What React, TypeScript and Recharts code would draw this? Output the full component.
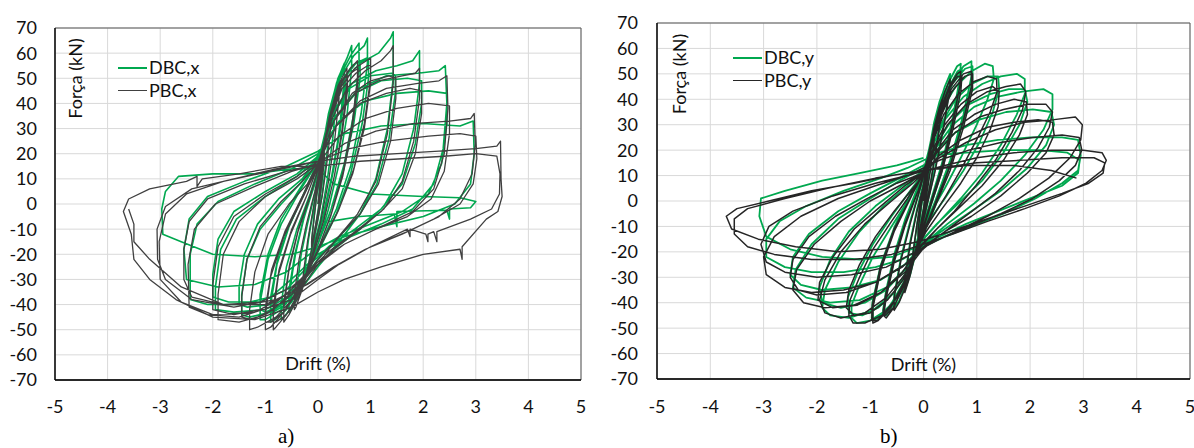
import { LineChart, Line, XAxis, YAxis, CartesianGrid, ReferenceArea, Legend } from 'recharts'

type Pt = [number, number]

const xTicks = [-5, -4, -3, -2, -1, 0, 1, 2, 3, 4, 5]
const yTicks = [-70, -60, -50, -40, -30, -20, -10, 0, 10, 20, 30, 40, 50, 60, 70]

const GREEN = '#00a84f'
const FONT = 'Lato, "Noto Sans", sans-serif'
const SERIF = '"Liberation Serif", "Times New Roman", serif'

// a) drift in x — DBC (green), read cycle by cycle off the picture
const dbcX: Pt[] = [
  [0, 0], [0.06, 12], [0.12, 22], [0.12, 19], [0.08, 10], [0.02, 0], [-0.04, -8], [-0.1, -16], [-0.12, -18], [-0.12, -15], [-0.08, -6], [-0.03, 3],
  [0.05, 12], [0.13, 24], [0.22, 35], [0.22, 31], [0.16, 18], [0.08, 4], [0, -6], [-0.12, -18], [-0.22, -28], [-0.25, -30], [-0.25, -26], [-0.18, -14], [-0.1, -4], [-0.02, 6],
  [0.08, 18], [0.2, 32], [0.3, 42], [0.35, 47], [0.35, 42], [0.28, 26], [0.18, 10], [0.05, -6], [-0.1, -18], [-0.25, -30], [-0.38, -37], [-0.4, -38], [-0.4, -33], [-0.32, -20], [-0.2, -8], [-0.05, 5],
  [0.08, 20], [0.2, 35], [0.35, 48], [0.46, 54], [0.5, 56], [0.5, 50], [0.42, 32], [0.3, 14], [0.12, -4], [-0.1, -20], [-0.3, -33], [-0.48, -41], [-0.55, -43], [-0.55, -37], [-0.45, -22], [-0.3, -8], [-0.1, 6],
  [0.08, 19], [0.22, 34], [0.38, 45], [0.5, 50], [0.5, 45], [0.4, 28], [0.26, 11], [0.08, -6], [-0.12, -20], [-0.32, -32], [-0.5, -39], [-0.55, -40], [-0.55, -34], [-0.44, -20], [-0.28, -6], [-0.08, 7],
  [0.1, 21], [0.25, 36], [0.4, 46], [0.52, 51], [0.52, 46], [0.42, 29], [0.27, 11], [0.1, -5], [-0.1, -19], [-0.3, -31], [-0.48, -38], [-0.53, -39], [-0.53, -33], [-0.42, -19], [-0.26, -5], [-0.06, 8],
  [0.05, 18], [0.2, 36], [0.38, 50], [0.55, 58], [0.64, 63], [0.64, 54], [0.55, 35], [0.4, 16], [0.2, -2], [0, -16], [-0.25, -30], [-0.5, -41], [-0.65, -45], [-0.7, -46], [-0.7, -40], [-0.6, -25], [-0.4, -10], [-0.15, 4],
  [0.05, 17], [0.22, 36], [0.42, 51], [0.62, 59], [0.78, 64], [0.78, 55], [0.68, 36], [0.5, 16], [0.25, -2], [0, -16], [-0.3, -31], [-0.6, -42], [-0.82, -46], [-0.9, -47], [-0.9, -40], [-0.78, -24], [-0.55, -9], [-0.25, 5],
  [0.02, 18], [0.22, 36], [0.45, 49], [0.65, 55], [0.8, 57], [0.8, 50], [0.68, 32], [0.48, 13], [0.22, -4], [-0.02, -17], [-0.32, -31], [-0.62, -40], [-0.85, -43], [-0.9, -43], [-0.9, -37], [-0.76, -21], [-0.52, -7], [-0.22, 6],
  [0, 16], [0.2, 34], [0.42, 50], [0.68, 59], [0.88, 63], [0.94, 66], [0.94, 56], [0.82, 36], [0.62, 15], [0.35, -2], [0.05, -16], [-0.3, -31], [-0.7, -42], [-1.0, -46], [-1.1, -46], [-1.1, -39], [-0.95, -22], [-0.7, -8], [-0.35, 5],
  [0, 17], [0.22, 35], [0.46, 49], [0.72, 56], [0.92, 58], [0.96, 57], [0.96, 50], [0.84, 32], [0.62, 12], [0.35, -4], [0.05, -17], [-0.3, -31], [-0.7, -40], [-1.0, -43], [-1.1, -42], [-1.1, -36], [-0.95, -20], [-0.7, -6], [-0.35, 6],
  [0, 17], [0.2, 33], [0.45, 48], [0.8, 56], [1.15, 60], [1.38, 66], [1.43, 68.5], [1.43, 50], [1.32, 30], [1.1, 10], [0.8, -4], [0.4, -15], [0, -25], [-0.4, -36], [-0.9, -43], [-1.3, -45], [-1.45, -44], [-1.45, -36], [-1.35, -22], [-1.1, -10], [-0.7, 0], [-0.3, 9],
  [0.05, 20], [0.3, 36], [0.6, 46], [1.0, 51], [1.4, 52], [1.47, 51], [1.47, 44], [1.35, 26], [1.12, 8], [0.8, -4], [0.4, -13], [0, -22], [-0.4, -33], [-0.9, -40], [-1.35, -41], [-1.5, -40], [-1.5, -33], [-1.4, -20], [-1.15, -8], [-0.75, 2], [-0.3, 10],
  [0.05, 21], [0.3, 37], [0.65, 48], [1.1, 53], [1.5, 55], [1.8, 57], [1.93, 61], [1.93, 48], [1.82, 30], [1.6, 12], [1.25, -1], [0.8, -10], [0.3, -18], [-0.1, -26], [-0.5, -36], [-1.0, -42], [-1.6, -43], [-1.95, -42], [-1.95, -33], [-1.85, -18], [-1.55, -6], [-1.0, 3], [-0.4, 11],
  [0, 18], [0.3, 34], [0.7, 44], [1.2, 49], [1.7, 50], [1.97, 49], [1.97, 40], [1.85, 24], [1.6, 8], [1.2, -2], [0.7, -10], [0.2, -17], [-0.2, -25], [-0.6, -34], [-1.1, -39], [-1.7, -39], [-2.0, -37], [-2.0, -28], [-1.9, -14], [-1.6, -3], [-1.0, 5], [-0.4, 12],
  [0, 19], [0.35, 35], [0.8, 46], [1.3, 51], [1.9, 52], [2.3, 53], [2.42, 55], [2.45, 40], [2.38, 22], [2.2, 8], [1.8, -2], [1.2, -8], [0.5, -14], [0, -20], [-0.4, -28], [-0.9, -37], [-1.5, -40], [-2.1, -40], [-2.43, -38], [-2.43, -20], [-2.3, -8], [-1.9, 1], [-1.2, 8], [-0.5, 14],
  [0, 20], [0.4, 33], [0.9, 41], [1.5, 44], [2.1, 45], [2.45, 44], [2.45, 32], [2.35, 16], [2.1, 4], [1.6, -3], [1.0, -8], [0.4, -13], [-0.1, -19], [-0.6, -27], [-1.2, -32], [-1.9, -33], [-2.5, -30], [-2.55, -18], [-2.45, -6], [-2.1, 3], [-1.4, 9], [-0.6, 15],
  [0, 21], [0.5, 28], [1.2, 31], [2.0, 32], [2.7, 31], [2.95, 33], [2.97, 20], [2.9, 8], [2.6, 0], [2.0, -5], [1.2, -9], [0.5, -13], [0, -17], [-0.5, -20], [-1.2, -21], [-2.0, -20], [-2.6, -15], [-2.95, -12], [-2.97, -2], [-2.9, 5], [-2.65, 11], [-2.0, 12], [-1.2, 12], [-0.5, 14],
  [0, 14], [0.3, 8], [1.0, 4], [2.0, 3], [2.7, 2.5], [3.0, 1], [2.9, -1.5], [2.5, -2], [2.5, -6], [2.45, -2.5], [1.5, -3], [1.5, -9], [1.45, -4], [0.8, -5], [0.2, -7],
]

// a) drift in x — PBC (dark grey)
const pbcX: Pt[] = [
  [0, 0], [0.06, 11], [0.12, 20], [0.12, 17], [0.07, 8], [0.01, -2], [-0.06, -10], [-0.12, -17], [-0.12, -14], [-0.07, -5], [-0.02, 4],
  [0.06, 14], [0.16, 27], [0.25, 36], [0.25, 32], [0.18, 18], [0.08, 3], [-0.04, -10], [-0.16, -22], [-0.26, -31], [-0.28, -32], [-0.28, -28], [-0.2, -15], [-0.1, -3], [-0.02, 7],
  [0.08, 19], [0.22, 34], [0.34, 43], [0.4, 47], [0.4, 42], [0.32, 26], [0.2, 9], [0.05, -7], [-0.12, -21], [-0.3, -34], [-0.42, -41], [-0.45, -42], [-0.45, -36], [-0.36, -22], [-0.22, -8], [-0.06, 5],
  [0.08, 19], [0.22, 35], [0.38, 47], [0.5, 52], [0.55, 54], [0.55, 48], [0.46, 30], [0.32, 12], [0.12, -6], [-0.1, -21], [-0.32, -35], [-0.55, -44], [-0.65, -47], [-0.65, -41], [-0.55, -26], [-0.38, -11], [-0.15, 3],
  [0.06, 18], [0.2, 32], [0.36, 44], [0.5, 50], [0.56, 51], [0.56, 45], [0.46, 28], [0.3, 10], [0.1, -7], [-0.12, -22], [-0.35, -35], [-0.56, -43], [-0.65, -45], [-0.65, -39], [-0.54, -24], [-0.36, -9], [-0.14, 4],
  [0.05, 17], [0.22, 35], [0.42, 48], [0.62, 54], [0.75, 57], [0.75, 50], [0.65, 32], [0.48, 13], [0.25, -4], [0, -18], [-0.3, -33], [-0.6, -44], [-0.8, -49], [-0.85, -50], [-0.85, -44], [-0.75, -28], [-0.52, -12], [-0.22, 3],
  [0.04, 17], [0.22, 34], [0.42, 46], [0.62, 52], [0.76, 54], [0.76, 48], [0.65, 30], [0.47, 11], [0.24, -5], [-0.02, -19], [-0.32, -34], [-0.6, -44], [-0.8, -47], [-0.85, -47], [-0.85, -41], [-0.74, -26], [-0.5, -10], [-0.2, 4],
  [0.02, 16], [0.22, 34], [0.45, 47], [0.7, 54], [0.92, 57], [1.0, 58], [1.0, 50], [0.88, 32], [0.68, 14], [0.4, -2], [0.05, -16], [-0.3, -31], [-0.65, -43], [-0.9, -49], [-1.0, -50], [-1.0, -44], [-0.9, -29], [-0.65, -13], [-0.3, 2],
  [0.02, 16], [0.22, 33], [0.46, 46], [0.72, 52], [0.94, 55], [1.0, 55], [1.0, 48], [0.88, 30], [0.66, 12], [0.38, -3], [0.04, -17], [-0.3, -32], [-0.65, -43], [-0.9, -47], [-1.0, -47], [-1.0, -41], [-0.88, -26], [-0.63, -11], [-0.3, 3],
  [0, 16], [0.25, 33], [0.55, 46], [0.9, 53], [1.2, 57], [1.38, 61], [1.43, 63], [1.43, 48], [1.32, 28], [1.1, 9], [0.75, -4], [0.35, -14], [0, -24], [-0.4, -36], [-0.8, -45], [-1.15, -49], [-1.3, -50], [-1.3, -42], [-1.2, -27], [-0.95, -12], [-0.55, 0], [-0.2, 8],
  [0.05, 18], [0.3, 33], [0.65, 44], [1.0, 49], [1.35, 51], [1.48, 50], [1.48, 42], [1.38, 25], [1.15, 8], [0.8, -4], [0.4, -13], [0, -22], [-0.4, -33], [-0.85, -42], [-1.25, -46], [-1.45, -45], [-1.45, -37], [-1.35, -22], [-1.1, -9], [-0.7, 1], [-0.3, 9],
  [0.03, 17], [0.3, 33], [0.7, 44], [1.15, 49], [1.6, 51], [1.85, 52], [1.93, 54], [1.93, 42], [1.82, 25], [1.6, 9], [1.25, -2], [0.8, -10], [0.3, -18], [-0.1, -26], [-0.5, -36], [-1.0, -44], [-1.5, -47], [-1.9, -46], [-1.9, -36], [-1.8, -20], [-1.5, -7], [-1.0, 3], [-0.4, 10],
  [0, 16], [0.35, 31], [0.8, 40], [1.3, 44], [1.75, 46], [1.97, 45], [1.97, 36], [1.85, 20], [1.6, 6], [1.2, -3], [0.7, -11], [0.2, -19], [-0.2, -27], [-0.6, -36], [-1.1, -42], [-1.6, -44], [-2.0, -42], [-2.0, -32], [-1.9, -17], [-1.6, -5], [-1.0, 4], [-0.4, 11],
  [0, 17], [0.35, 31], [0.8, 41], [1.3, 46], [1.9, 48], [2.3, 49], [2.45, 51], [2.47, 38], [2.4, 20], [2.2, 6], [1.8, -3], [1.2, -9], [0.5, -16], [0, -23], [-0.4, -32], [-0.9, -41], [-1.5, -45], [-2.1, -44], [-2.45, -41], [-2.47, -24], [-2.35, -10], [-1.95, 0], [-1.2, 7], [-0.5, 13],
  [0, 16], [0.4, 27], [0.9, 34], [1.5, 38], [2.1, 40], [2.5, 39], [2.5, 28], [2.4, 13], [2.15, 2], [1.7, -5], [1.1, -10], [0.5, -16], [0, -24], [-0.5, -33], [-1.1, -39], [-1.8, -40], [-2.4, -37], [-2.55, -30], [-2.55, -18], [-2.45, -7], [-2.1, 2], [-1.4, 8], [-0.6, 13],
  [0, 16], [0.5, 24], [1.1, 29], [1.8, 32], [2.5, 33], [2.9, 34], [2.97, 36], [2.99, 24], [2.93, 12], [2.7, 2], [2.3, -5], [1.7, -11], [1.0, -17], [0.4, -24], [0, -30], [-0.5, -38], [-1.2, -43], [-2.0, -44], [-2.6, -39], [-3.0, -30], [-3.02, -15], [-2.9, -4], [-2.5, 4], [-1.8, 9], [-0.9, 13],
  [0, 17], [0.6, 22], [1.3, 25], [2.1, 27], [2.7, 28], [3.0, 27], [3.02, 18], [2.95, 8], [2.7, 0], [2.2, -6], [1.6, -12], [0.9, -18], [0.3, -25], [-0.2, -32], [-0.8, -38], [-1.6, -41], [-2.4, -38], [-2.9, -30], [-3.05, -22], [-3.06, -10], [-2.9, -1], [-2.4, 6], [-1.6, 10], [-0.8, 14],
  [0, 17], [0.7, 19], [1.5, 20], [2.3, 21], [3.0, 22], [3.4, 23], [3.47, 25], [3.48, 10], [3.5, 3], [3.42, -3], [3.2, -6], [2.74, -17], [2.74, -22], [2.7, -18], [2.0, -20], [1.2, -25], [0.5, -30], [0, -35], [-0.5, -41], [-1.2, -46], [-2.0, -45], [-2.7, -38], [-3.2, -30], [-3.5, -22], [-3.55, -12], [-3.7, -3], [-3.6, 2], [-3.2, 6], [-2.5, 9], [-2.3, 11], [-2.3, 7], [-2.2, 10], [-1.5, 12], [-0.7, 15],
  [0, 15], [0.8, 17], [1.6, 18], [2.4, 19], [3.0, 20], [3.4, 19], [3.46, 12], [3.45, 4], [3.3, -2], [2.9, -6], [2.26, -11], [2.26, -15], [2.2, -11], [2.09, -12], [2.09, -15], [2.05, -12], [1.75, -10], [1.75, -13], [1.7, -10], [1.0, -17], [0.3, -25], [-0.3, -33], [-1.0, -40], [-1.8, -40], [-2.6, -33], [-3.2, -22], [-3.5, -15], [-3.5, -8], [-3.6, -2],
]

// b) drift in y — DBC (green)
const dbcY: Pt[] = [
  [0, 0], [0.05, 10], [0.1, 18], [0.1, 15], [0.06, 7], [0.01, -2], [-0.05, -9], [-0.1, -15], [-0.1, -12], [-0.05, -4], [0, 4],
  [0.06, 13], [0.14, 24], [0.2, 30], [0.2, 26], [0.13, 14], [0.05, 2], [-0.05, -10], [-0.14, -20], [-0.2, -25], [-0.2, -21], [-0.12, -9], [-0.03, 3],
  [0.08, 17], [0.2, 31], [0.3, 39], [0.35, 42], [0.35, 37], [0.26, 24], [0.15, 9], [0.02, -5], [-0.12, -18], [-0.25, -29], [-0.35, -35], [-0.35, -30], [-0.25, -16], [-0.12, -3], [0, 7],
  [0.1, 20], [0.25, 35], [0.4, 45], [0.5, 50], [0.5, 45], [0.38, 30], [0.22, 13], [0.05, -3], [-0.12, -18], [-0.3, -31], [-0.45, -39], [-0.55, -42], [-0.55, -37], [-0.42, -22], [-0.25, -8], [-0.05, 6],
  [0.1, 19], [0.28, 36], [0.48, 47], [0.63, 53], [0.7, 54], [0.68, 48], [0.55, 33], [0.35, 15], [0.12, -1], [-0.1, -16], [-0.32, -30], [-0.55, -40], [-0.7, -45], [-0.75, -44], [-0.7, -37], [-0.55, -23], [-0.35, -9], [-0.1, 5],
  [0.1, 18], [0.28, 34], [0.48, 45], [0.64, 51], [0.72, 52], [0.7, 46], [0.56, 31], [0.36, 13], [0.12, -3], [-0.1, -17], [-0.33, -31], [-0.56, -40], [-0.72, -44], [-0.76, -43], [-0.7, -35], [-0.55, -21], [-0.34, -7], [-0.1, 6],
  [0.1, 18], [0.3, 35], [0.52, 46], [0.75, 53], [0.9, 55], [0.9, 49], [0.75, 34], [0.5, 16], [0.22, 0], [-0.05, -14], [-0.3, -29], [-0.6, -41], [-0.85, -46], [-0.95, -47], [-0.95, -41], [-0.8, -26], [-0.55, -11], [-0.2, 4],
  [0.08, 17], [0.3, 34], [0.54, 46], [0.78, 52], [0.92, 53], [0.92, 47], [0.76, 32], [0.5, 14], [0.22, -2], [-0.06, -16], [-0.32, -30], [-0.62, -41], [-0.88, -46], [-0.97, -46], [-0.96, -40], [-0.8, -25], [-0.54, -10], [-0.2, 5],
  [0, 12], [0.15, 24], [0.35, 36], [0.6, 45], [0.9, 51], [1.15, 54], [1.3, 53], [1.32, 48], [1.2, 40], [1.0, 30], [0.7, 17], [0.4, 5], [0.1, -6], [-0.1, -14], [-0.25, -26], [-0.45, -36], [-0.7, -43], [-1.0, -47], [-1.25, -48], [-1.35, -46], [-1.35, -41], [-1.2, -33], [-0.95, -22], [-0.6, -10], [-0.3, 0], [-0.05, 9],
  [0.15, 20], [0.35, 31], [0.6, 40], [0.9, 46], [1.2, 49], [1.4, 49], [1.42, 44], [1.3, 35], [1.05, 23], [0.75, 12], [0.4, 1], [0.1, -8], [-0.1, -15], [-0.3, -27], [-0.55, -36], [-0.85, -42], [-1.15, -45], [-1.4, -44], [-1.42, -38], [-1.25, -29], [-0.95, -17], [-0.6, -6], [-0.25, 4], [0, 11],
  [0.15, 21], [0.4, 32], [0.75, 41], [1.1, 46], [1.45, 49], [1.75, 50], [1.9, 48], [1.9, 42], [1.75, 34], [1.45, 22], [1.1, 11], [0.7, 1], [0.3, -8], [0, -15], [-0.25, -26], [-0.55, -36], [-0.95, -43], [-1.4, -46], [-1.75, -45], [-1.9, -42], [-1.85, -35], [-1.6, -24], [-1.2, -12], [-0.75, -2], [-0.3, 6], [0, 12],
  [0.2, 21], [0.5, 31], [0.85, 38], [1.25, 42], [1.6, 44], [1.9, 44], [1.95, 39], [1.8, 30], [1.5, 19], [1.1, 8], [0.65, -1], [0.25, -9], [-0.05, -16], [-0.35, -27], [-0.7, -35], [-1.1, -40], [-1.55, -42], [-1.9, -40], [-1.95, -34], [-1.75, -23], [-1.4, -12], [-0.9, -2], [-0.4, 6], [0, 12],
  [0.2, 20], [0.55, 30], [0.95, 37], [1.4, 41], [1.85, 43], [2.25, 44], [2.42, 42], [2.42, 36], [2.25, 28], [1.9, 18], [1.45, 8], [0.95, -1], [0.45, -9], [0.05, -16], [-0.3, -26], [-0.7, -34], [-1.2, -39], [-1.75, -40], [-2.2, -38], [-2.45, -34], [-2.4, -27], [-2.1, -17], [-1.6, -7], [-1.0, 1], [-0.45, 8], [0, 13],
  [0.25, 20], [0.6, 27], [1.05, 32], [1.55, 35], [2.05, 36], [2.4, 35], [2.45, 30], [2.3, 22], [1.95, 13], [1.45, 4], [0.9, -4], [0.4, -11], [0, -17], [-0.35, -25], [-0.8, -31], [-1.35, -34], [-1.9, -35], [-2.3, -33], [-2.5, -29], [-2.45, -22], [-2.15, -13], [-1.6, -4], [-1.0, 3], [-0.45, 9], [0, 14],
  [0.3, 19], [0.8, 22], [1.4, 24], [2.0, 25], [2.6, 25], [2.9, 24], [2.95, 18], [2.9, 12], [2.6, 7], [2.1, 1], [1.5, -5], [0.9, -10], [0.4, -14], [0, -18], [-0.4, -23], [-0.9, -26], [-1.5, -28], [-2.1, -28], [-2.6, -26], [-2.95, -22], [-2.95, -15], [-2.7, -8], [-2.2, -2], [-1.5, 4], [-0.8, 9], [-0.3, 13],
  [0.2, 18], [0.8, 19], [1.5, 20], [2.2, 20], [2.7, 19], [2.93, 16], [2.9, 11], [2.6, 6], [2.0, 1], [1.4, -4], [0.8, -9], [0.3, -14], [-0.1, -18], [-0.6, -22], [-1.2, -23], [-1.9, -22], [-2.5, -19], [-2.95, -14], [-3.08, -6], [-3.05, 1], [-2.6, 4], [-1.9, 8], [-1.2, 11], [-0.5, 14], [0, 17],
]

// b) drift in y — PBC (black)
const pbcY: Pt[] = [
  [0, 0], [0.05, 9], [0.1, 16], [0.1, 13], [0.05, 5], [0, -3], [-0.05, -9], [-0.1, -14], [-0.1, -11], [-0.05, -3], [0, 4],
  [0.06, 12], [0.14, 22], [0.2, 28], [0.2, 24], [0.13, 12], [0.04, 0], [-0.06, -11], [-0.15, -20], [-0.2, -25], [-0.2, -21], [-0.12, -9], [-0.03, 3],
  [0.08, 16], [0.2, 29], [0.3, 37], [0.35, 40], [0.34, 35], [0.25, 22], [0.14, 8], [0.01, -6], [-0.13, -19], [-0.26, -30], [-0.35, -36], [-0.35, -31], [-0.25, -17], [-0.12, -4], [0, 6],
  [0.1, 19], [0.25, 33], [0.4, 43], [0.5, 48], [0.49, 43], [0.37, 28], [0.21, 11], [0.04, -4], [-0.13, -19], [-0.3, -32], [-0.46, -40], [-0.55, -43], [-0.55, -38], [-0.42, -23], [-0.25, -9], [-0.06, 5],
  [0.1, 18], [0.28, 34], [0.48, 45], [0.63, 50], [0.7, 51], [0.68, 45], [0.54, 30], [0.34, 13], [0.1, -3], [-0.12, -18], [-0.34, -32], [-0.56, -42], [-0.7, -46], [-0.75, -45], [-0.7, -38], [-0.55, -24], [-0.35, -10], [-0.1, 4],
  [0.1, 17], [0.28, 33], [0.48, 44], [0.64, 49], [0.72, 49], [0.7, 43], [0.55, 28], [0.34, 11], [0.1, -4], [-0.12, -19], [-0.35, -33], [-0.57, -42], [-0.72, -45], [-0.76, -44], [-0.71, -37], [-0.56, -23], [-0.35, -9], [-0.1, 4],
  [0.1, 17], [0.3, 33], [0.52, 44], [0.75, 50], [0.9, 51], [0.9, 45], [0.74, 31], [0.5, 14], [0.2, -2], [-0.08, -16], [-0.32, -30], [-0.62, -42], [-0.85, -47], [-0.95, -48], [-0.95, -42], [-0.8, -27], [-0.55, -12], [-0.2, 3],
  [0.08, 16], [0.3, 32], [0.53, 43], [0.77, 49], [0.92, 50], [0.92, 44], [0.75, 29], [0.5, 12], [0.2, -3], [-0.08, -17], [-0.33, -31], [-0.63, -42], [-0.87, -47], [-0.97, -47], [-0.96, -41], [-0.81, -26], [-0.55, -11], [-0.2, 3],
  [0, 11], [0.15, 22], [0.38, 34], [0.65, 42], [0.95, 47], [1.2, 49], [1.37, 48], [1.38, 43], [1.25, 35], [1.02, 25], [0.72, 13], [0.42, 2], [0.12, -8], [-0.1, -16], [-0.28, -28], [-0.5, -38], [-0.78, -45], [-1.1, -48], [-1.32, -48], [-1.4, -45], [-1.38, -39], [-1.2, -30], [-0.95, -19], [-0.6, -8], [-0.3, 1], [-0.05, 9],
  [0.15, 19], [0.4, 30], [0.7, 38], [1.0, 43], [1.3, 45], [1.42, 43], [1.4, 37], [1.25, 28], [1.0, 17], [0.7, 7], [0.35, -3], [0.05, -12], [-0.15, -20], [-0.38, -31], [-0.68, -39], [-1.0, -44], [-1.3, -45], [-1.45, -42], [-1.4, -35], [-1.2, -25], [-0.9, -14], [-0.55, -4], [-0.2, 5], [0, 10],
  [0.18, 19], [0.45, 30], [0.8, 38], [1.2, 43], [1.55, 45], [1.82, 46], [1.92, 43], [1.86, 36], [1.66, 27], [1.35, 16], [0.98, 6], [0.58, -4], [0.2, -12], [-0.08, -18], [-0.35, -29], [-0.7, -38], [-1.1, -44], [-1.55, -46], [-1.85, -44], [-1.95, -39], [-1.85, -31], [-1.55, -20], [-1.1, -9], [-0.6, 0], [-0.2, 7], [0, 11],
  [0.22, 19], [0.55, 28], [0.95, 34], [1.35, 38], [1.7, 40], [1.93, 39], [1.95, 34], [1.8, 26], [1.5, 16], [1.1, 6], [0.65, -3], [0.25, -11], [-0.05, -18], [-0.4, -28], [-0.8, -36], [-1.25, -41], [-1.7, -42], [-1.98, -39], [-1.95, -32], [-1.7, -22], [-1.3, -11], [-0.8, -2], [-0.35, 6], [0, 11],
  [0.25, 19], [0.6, 27], [1.05, 33], [1.5, 36], [1.95, 38], [2.3, 38], [2.42, 35], [2.36, 29], [2.15, 21], [1.8, 12], [1.35, 3], [0.85, -5], [0.4, -12], [0.02, -18], [-0.35, -28], [-0.8, -36], [-1.3, -41], [-1.85, -42], [-2.25, -40], [-2.45, -35], [-2.38, -27], [-2.05, -17], [-1.55, -8], [-1.0, 0], [-0.45, 6], [0, 11],
  [0.3, 18], [0.7, 24], [1.2, 29], [1.7, 31], [2.15, 32], [2.42, 31], [2.45, 26], [2.3, 19], [1.95, 11], [1.45, 2], [0.9, -6], [0.4, -12], [0, -18], [-0.4, -26], [-0.9, -32], [-1.45, -36], [-2.0, -37], [-2.35, -35], [-2.5, -30], [-2.45, -23], [-2.15, -14], [-1.65, -6], [-1.05, 1], [-0.5, 7], [0, 11],
  [0.3, 17], [0.8, 23], [1.35, 28], [1.9, 31], [2.45, 32], [2.85, 33], [2.98, 30], [2.95, 24], [2.75, 17], [2.35, 9], [1.8, 1], [1.2, -6], [0.6, -12], [0.1, -17], [-0.35, -25], [-0.9, -32], [-1.5, -35], [-2.1, -36], [-2.6, -34], [-2.95, -29], [-3.0, -22], [-2.8, -14], [-2.3, -6], [-1.6, 1], [-0.9, 6], [-0.3, 10],
  [0.3, 16], [0.85, 20], [1.45, 23], [2.05, 25], [2.6, 26], [2.92, 25], [2.97, 20], [2.85, 14], [2.55, 8], [2.05, 1], [1.45, -5], [0.85, -10], [0.3, -15], [-0.15, -20], [-0.7, -26], [-1.35, -29], [-2.0, -30], [-2.6, -28], [-2.95, -24], [-3.05, -17], [-2.9, -10], [-2.45, -4], [-1.7, 2], [-0.9, 7], [-0.3, 10],
  [0.4, 14], [1.0, 17], [1.7, 19], [2.4, 20], [3.0, 20], [3.35, 19], [3.43, 16], [3.35, 12], [3.05, 7], [2.55, 2], [1.9, -3], [1.2, -8], [0.55, -13], [0, -17], [-0.6, -21], [-1.3, -23], [-2.1, -23], [-2.8, -21], [-3.3, -18], [-3.55, -13], [-3.55, -7], [-3.3, -3], [-2.6, 1], [-1.8, 5], [-0.9, 9], [-0.3, 11],
  [0.3, 13], [1.0, 15], [1.8, 16], [2.6, 17], [3.2, 17], [3.4, 15], [3.37, 11], [3.1, 7], [2.6, 3], [1.9, -2], [1.2, -7], [0.5, -12], [-0.1, -16], [-0.8, -19], [-1.6, -20], [-2.4, -18], [-3.1, -15], [-3.6, -11], [-3.7, -6], [-3.5, -3], [-2.9, 0], [-2.1, 4], [-1.3, 7], [-0.6, 10], [0, 12], [0.8, 14], [1.7, 14], [2.4, 12], [2.87, 9],
]

const rows = (pts: Pt[]) => pts.map(([x, y]) => ({ x, y }))

type Series = { name: string; pts: Pt[]; color: string; width: number; keyWidth: number }

type PanelProps = {
  left: number
  width: number
  margin: { top: number; right: number; bottom: number; left: number }
  yAxisWidth: number
  xTickMargin: number
  yTickMargin: number
  driftOffset: number
  legendAt: { left: number; top: number }
  series: Series[]
}

const tickStyle = { fill: '#111', fontSize: 18, fontFamily: FONT }

function Panel({ left, width, margin, yAxisWidth, xTickMargin, yTickMargin, driftOffset, legendAt, series }: PanelProps) {
  const renderLegend = () => (
    <div style={{ fontFamily: FONT, fontSize: 18, color: '#111', lineHeight: '23px' }}>
      {series.map((s) => (
        <div key={s.name} style={{ display: 'flex', alignItems: 'center', whiteSpace: 'nowrap' }}>
          <span style={{ display: 'inline-block', width: 29, borderTop: `${s.keyWidth}px solid ${s.color}`, marginRight: 2 }} />
          {s.name}
        </div>
      ))}
    </div>
  )

  return (
    <div style={{ position: 'absolute', left, top: 0 }}>
      <LineChart width={width} height={448} margin={margin}>
        <CartesianGrid stroke="#d9d9d9" strokeWidth={1} />
        <XAxis
          type="number"
          dataKey="x"
          domain={[-5, 5]}
          ticks={xTicks}
          interval={0}
          height={30}
          tickLine={false}
          axisLine={{ stroke: '#000', strokeWidth: 1.3 }}
          tick={tickStyle}
          tickMargin={xTickMargin}
          allowDataOverflow
          label={{ value: 'Drift (%)', position: 'top', offset: driftOffset, fill: '#111', fontSize: 18, fontFamily: FONT }}
        />
        <YAxis
          type="number"
          dataKey="y"
          domain={[-70, 70]}
          ticks={yTicks}
          interval={0}
          width={yAxisWidth}
          tickLine={false}
          axisLine={{ stroke: '#000', strokeWidth: 1.3 }}
          tick={tickStyle}
          tickMargin={yTickMargin}
          allowDataOverflow
        />
        <ReferenceArea x1={-5} x2={5} y1={-70} y2={70} fill="none" stroke="#595959" strokeWidth={1} ifOverflow="visible" />
        <Legend
          layout="vertical"
          align="center"
          verticalAlign="middle"
          wrapperStyle={{ left: legendAt.left, top: legendAt.top, width: 'auto' }}
          content={renderLegend}
        />
        {series.map((s) => (
          <Line
            key={s.name}
            name={s.name}
            data={rows(s.pts)}
            dataKey="y"
            type="linear"
            stroke={s.color}
            strokeWidth={s.width}
            strokeLinejoin="round"
            dot={false}
            activeDot={false}
            isAnimationActive={false}
          />
        ))}
      </LineChart>
    </div>
  )
}

export default function App() {
  return (
    <div style={{ position: 'absolute', left: 0, top: 0, width: 1194, height: 448, background: '#fff' }}>
      <Panel
        left={0}
        width={600}
        margin={{ top: 28, right: 19, bottom: 38, left: 0 }}
        yAxisWidth={55}
        xTickMargin={14}
        yTickMargin={12}
        driftOffset={10}
        legendAt={{ left: 118, top: 56 }}
        series={[
          { name: 'DBC,x', pts: dbcX, color: GREEN, width: 1.6, keyWidth: 2.5 },
          { name: 'PBC,x', pts: pbcX, color: '#404040', width: 1.3, keyWidth: 1.3 },
        ]}
      />
      <Panel
        left={600}
        width={594}
        margin={{ top: 23, right: 4, bottom: 39, left: 0 }}
        yAxisWidth={57}
        xTickMargin={15}
        yTickMargin={13}
        driftOffset={8}
        legendAt={{ left: 133, top: 46 }}
        series={[
          { name: 'DBC,y', pts: dbcY, color: GREEN, width: 1.8, keyWidth: 2.5 },
          { name: 'PBC,y', pts: pbcY, color: '#262626', width: 1.5, keyWidth: 1.5 },
        ]}
      />
      <svg width={1194} height={448} style={{ position: 'absolute', left: 0, top: 0, pointerEvents: 'none' }}>
        <text transform="translate(82,78.5) rotate(-90)" textAnchor="middle" fontFamily={FONT} fontSize={18} fill="#111">
          Força (kN)
        </text>
        <text transform="translate(686,74) rotate(-90)" textAnchor="middle" fontFamily={FONT} fontSize={18} fill="#111">
          Força (kN)
        </text>
        <text x={278} y={443} fontFamily={SERIF} fontSize={21} fill="#000">a)</text>
        <text x={880} y={443} fontFamily={SERIF} fontSize={21} fill="#000">b)</text>
      </svg>
    </div>
  )
}
